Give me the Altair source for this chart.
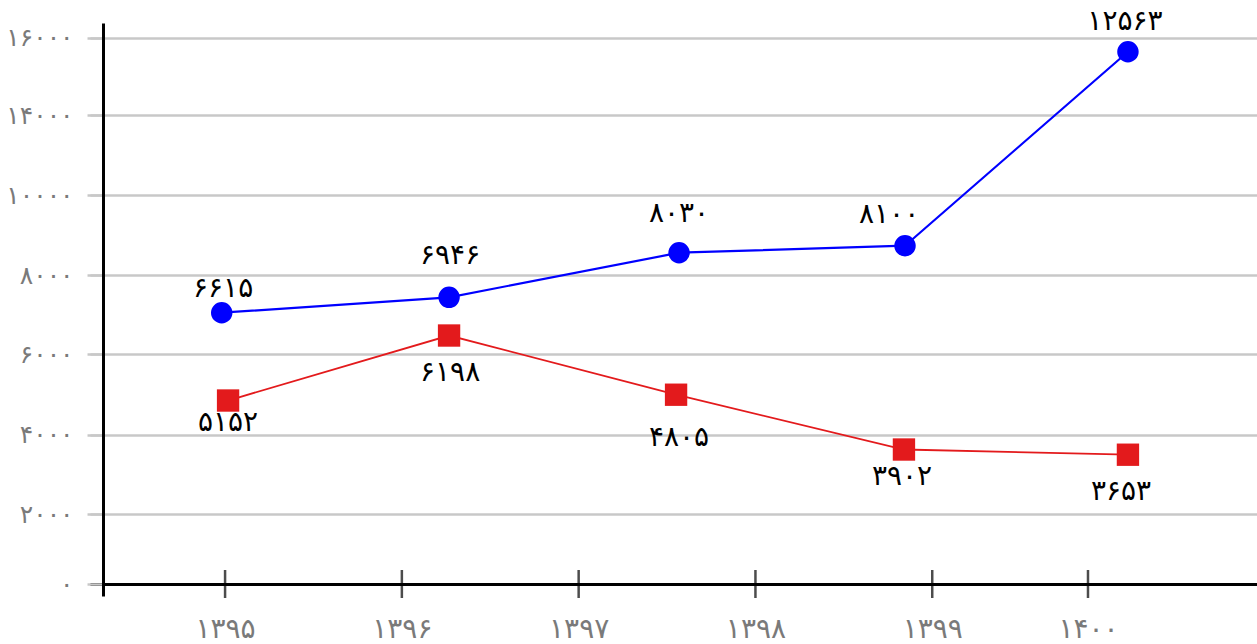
import altair as alt
import pandas as pd

# x axis ticks (year positions) and their labels
x_tick_values = [1395, 1396, 1397, 1398, 1399, 1399.881]
x_tick_labels = ["۱۳۹۵", "۱۳۹۶", "۱۳۹۷", "۱۳۹۸", "۱۳۹۹", "۱۴۰۰"]

# y axis ticks and their labels (as printed in the original)
y_tick_values = [0, 1750, 3733, 5750, 7725, 9725, 11725, 13658]
y_tick_labels = ["۰", "۲۰۰۰", "۴۰۰۰", "۶۰۰۰", "۸۰۰۰", "۱۰۰۰۰", "۱۴۰۰۰", "۱۶۰۰۰"]

# blue series
blue_x = [1394.981, 1396.267, 1397.568, 1398.846, 1400.107]
blue_y = [6782, 7167, 8282, 8457, 13307]
blue_labels = ["۶۶۱۵", "۶۹۴۶", "۸۰۳۰", "۸۱۰۰", "۱۲۵۶۳"]
blue_label_x = [1394.989, 1396.273, 1397.568, 1398.756, 1400.090]
blue_label_y = [7375, 8200, 9250, 9225, 14057]

# red series
red_x = [1395.017, 1396.267, 1397.551, 1398.840, 1400.107]
red_y = [4587, 6212, 4732, 3362, 3232]
red_labels = ["۵۱۵۲", "۶۱۹۸", "۴۸۰۵", "۳۹۰۲", "۳۶۵۳"]
red_label_x = [1395.017, 1396.273, 1397.568, 1398.829, 1400.068]
red_label_y = [4025, 5275, 3650, 2675, 2308]

BLUE = "#0000ff"
RED = "#e31a1c"
FONT = "DejaVu Sans"


def label_expr(values, labels):
    expr = "''"
    for v, l in reversed(list(zip(values, labels))):
        expr = f"abs(datum.value - {v}) < 0.01 ? '{l}' : ({expr})"
    return expr


blue_df = pd.DataFrame({"x": blue_x, "y": blue_y})
red_df = pd.DataFrame({"x": red_x, "y": red_y})
blue_lab = pd.DataFrame({"x": blue_label_x, "y": blue_label_y, "t": blue_labels})
red_lab = pd.DataFrame({"x": red_label_x, "y": red_label_y, "t": red_labels})
ticks_df = pd.DataFrame({"x": x_tick_values, "y": [0] * len(x_tick_values)})

x_scale = alt.Scale(domain=[1394.236, 1400.837], nice=False, zero=False)
y_scale = alt.Scale(domain=[-300, 14025], nice=False, zero=False)

x_axis = alt.Axis(
    values=x_tick_values,
    labelExpr=label_expr(x_tick_values, x_tick_labels),
    title=None,
    grid=False,
    ticks=False,
    tickSize=0,
    domainColor="black",
    domainWidth=3,
    offset=-12,
    labelPadding=31,
    labelFont=FONT,
    labelFontSize=28,
    labelColor="#7a7a7a",
    labelAngle=0,
    labelBaseline="top",
)
y_axis = alt.Axis(
    values=y_tick_values,
    labelExpr=label_expr(y_tick_values, y_tick_labels),
    title=None,
    grid=True,
    gridColor="#c8c8c8",
    gridWidth=2.5,
    tickColor="#c8c8c8",
    tickWidth=2.5,
    tickSize=16,
    domainColor="black",
    domainWidth=3,
    offset=-13,
    labelPadding=14,
    labelFont=FONT,
    labelFontSize=25,
    labelColor="#7a7a7a",
)

base_x = alt.X("x:Q", scale=x_scale, axis=x_axis)
base_y = alt.Y("y:Q", scale=y_scale, axis=y_axis)

blue_line = alt.Chart(blue_df).mark_line(color=BLUE, strokeWidth=2.2).encode(x=base_x, y=base_y)
red_line = alt.Chart(red_df).mark_line(color=RED, strokeWidth=1.8).encode(x="x:Q", y="y:Q")
blue_pts = alt.Chart(blue_df).mark_point(
    shape="circle", filled=True, size=460, color=BLUE, opacity=1
).encode(x="x:Q", y="y:Q")
red_pts = alt.Chart(red_df).mark_point(
    shape="square", filled=True, size=500, color=RED, opacity=1
).encode(x="x:Q", y="y:Q")
blue_text = alt.Chart(blue_lab).mark_text(
    font=FONT, fontSize=28, color="black", align="center", baseline="middle"
).encode(x="x:Q", y="y:Q", text="t:N")
red_text = alt.Chart(red_lab).mark_text(
    font=FONT, fontSize=28, color="black", align="center", baseline="middle"
).encode(x="x:Q", y="y:Q", text="t:N")
x_ticks = alt.Chart(ticks_df).mark_tick(
    orient="vertical", size=28, thickness=2.5, color="black"
).encode(x="x:Q", y="y:Q")

chart = (
    alt.layer(blue_line, red_line, blue_pts, red_pts, blue_text, red_text, x_ticks)
    .properties(
        width=1167,
        height=573,
        autosize=alt.AutoSizeParams(type="none"),
        padding={"left": 90, "top": 23, "right": 0, "bottom": 48},
        background="white",
    )
    .configure_view(stroke=None)
)

chart.save("out.html", embed_options={"renderer": "svg", "actions": False})
